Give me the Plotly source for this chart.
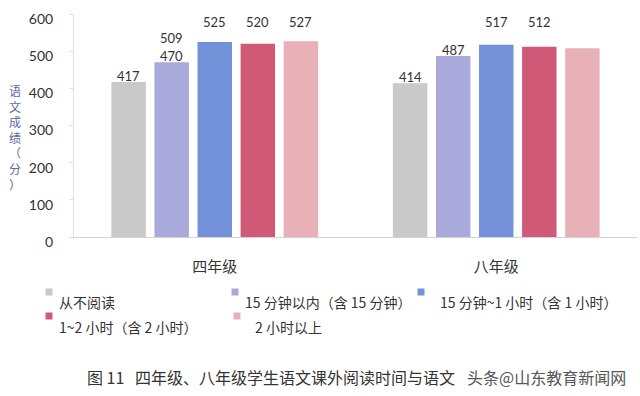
import plotly.graph_objects as go

# ---- data ----
grades = ["四年级", "八年级"]
series_names = ["从不阅读", "15 分钟以内（含 15 分钟）", "15 分钟~1 小时（含 1 小时）",
                "1~2 小时（含 2 小时）", "2 小时以上"]
never_read = [417, 414]
under_15min = [470, 487]
min15_to_1h = [525, 517]
h1_to_2h = [520, 512]
over_2h = [527, 508]
# labels drawn just above the bars
bar_labels = [["417", "414"], ["470", "487"], [None, None], [None, None], [None, None]]
# labels drawn in the row near the top of the plot
top_labels = [[None, None], ["509", None], ["525", "517"], ["520", "512"], ["527", None]]
y_ticks = [0, 100, 200, 300, 400, 500, 600]
y_title = "语文成绩（分）"
caption = "图 11   四年级、八年级学生语文课外阅读时间与语文"
watermark = "头条@山东教育新闻网"

values = [never_read, under_15min, min15_to_1h, h1_to_2h, over_2h]
colors = ["#c9c9c9", "#a9a9db", "#7391d9", "#d05978", "#e8b1b8"]

W, H = 640, 396
L, R, T, B = 74, 3, 14, 159
pw, ph = W - L - R, H - T - B


def px_x(px):
    return (px - L) / pw


def px_y(py):
    return (H - B - py) / ph


fig = go.Figure()
for i, (name, vals, col) in enumerate(zip(series_names, values, colors)):
    fig.add_trace(go.Bar(
        x=grades, y=vals, name=name, marker=dict(color=col, line=dict(width=0)),
        showlegend=False,
    ))

annotations = []
slot_px = pw / 2 * (1 - 0.235) / 5
top_row_value = 600 * (H - B - 22) / ph
extra_value = 600 * (H - B - 38) / ph
num_font = dict(family="Lato, Open Sans, sans-serif", size=13, color="#333333")
for i in range(5):
    for g, grade in enumerate(grades):
        t = bar_labels[i][g]
        if t is not None:
            annotations.append(dict(
                x=grade, y=values[i][g], xref="x", yref="y", text=t, showarrow=False,
                xshift=(i - 2) * slot_px, yshift=6, yanchor="middle", font=num_font,
            ))
        t = top_labels[i][g]
        if t is not None:
            yv = extra_value if i == 1 else top_row_value
            annotations.append(dict(
                x=grade, y=yv, xref="x", yref="y", text=t, showarrow=False,
                xshift=(i - 2) * slot_px, yanchor="middle", font=num_font,
            ))

# y-axis title, stacked vertically
annotations.append(dict(
    x=px_x(15), y=px_y(137), xref="paper", yref="paper",
    text="<br>".join(list(y_title)), showarrow=False, xanchor="center", yanchor="middle",
    font=dict(family="Noto Sans CJK SC", size=12, color="#5a6aa3"),
))

# manual legend
leg_pos = [(49, 292, 57, 302), (235, 292, 243, 302), (421, 292, 438, 302),
           (49, 316, 57, 327), (237, 316, 253, 327)]
shapes = []
for (sx, sy, tx, ty), name, col in zip(leg_pos, series_names, colors):
    shapes.append(dict(type="rect", xref="paper", yref="paper",
                       x0=px_x(sx - 3.5), x1=px_x(sx + 3.5), y0=px_y(sy + 3.5), y1=px_y(sy - 3.5),
                       fillcolor=col, line=dict(width=0)))
    annotations.append(dict(
        x=px_x(tx), y=px_y(ty), xref="paper", yref="paper", text=name, showarrow=False,
        xanchor="left", yanchor="middle",
        font=dict(family="Noto Sans CJK SC", size=14, color="#333333"),
    ))

# caption and watermark
annotations.append(dict(
    x=px_x(85), y=px_y(377), xref="paper", yref="paper", text=caption, showarrow=False,
    xanchor="left", yanchor="middle",
    font=dict(family="Noto Sans CJK SC", size=16, color="#333333"),
))
annotations.append(dict(
    x=px_x(465), y=px_y(377), xref="paper", yref="paper", text=watermark, showarrow=False,
    xanchor="left", yanchor="middle",
    font=dict(family="Noto Sans CJK SC", size=16, color="#555555"),
))

fig.update_layout(
    width=W, height=H,
    margin=dict(l=L, r=R, t=T, b=B),
    paper_bgcolor="white", plot_bgcolor="white",
    barmode="group", bargap=0.235, bargroupgap=0.2,
    annotations=annotations, shapes=shapes,
    xaxis=dict(
        showline=True, linecolor="#d4d4d4", linewidth=1, ticks="", showgrid=False,
        tickfont=dict(family="Noto Sans CJK SC", size=15, color="#333333"),
        ticklabelstandoff=16,
    ),
    yaxis=dict(
        range=[0, 600], tickvals=y_ticks, showgrid=False, zeroline=False,
        showline=True, linecolor="#e0e0e0", linewidth=1,
        ticks="outside", ticklen=4, tickcolor="#e0e0e0",
        tickfont=dict(family="Lato, Open Sans, sans-serif", size=14, color="#333333"),
        ticklabelstandoff=13, ticklabelshift=5,
    ),
)

fig.write_html("out.html", config={"displayModeBar": False},
               post_script="document.body.style.margin='0';")
